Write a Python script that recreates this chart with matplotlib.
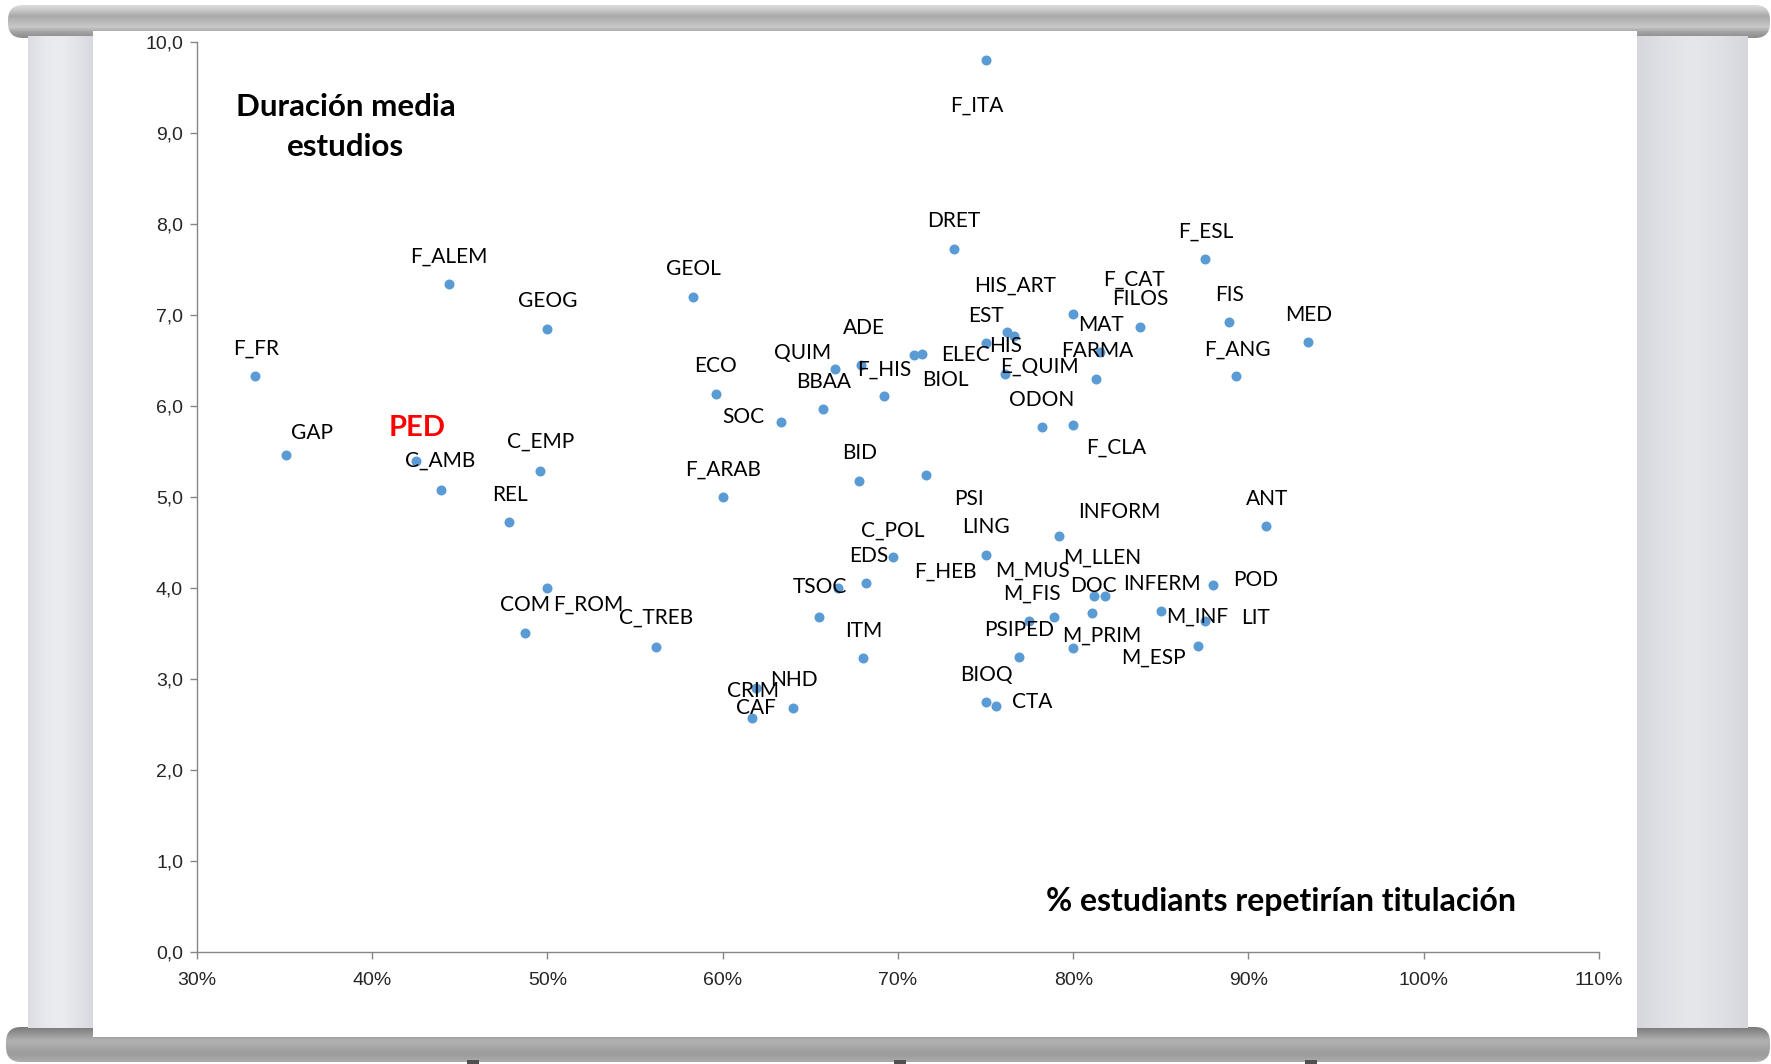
import numpy as np
import matplotlib.pyplot as plt
from matplotlib.patches import FancyBboxPatch, Rectangle
from matplotlib.colors import LinearSegmentedColormap
from matplotlib.ticker import FuncFormatter, MultipleLocator

plt.rcParams['font.family'] = ['Lato', 'DejaVu Sans']

# data: % students who would repeat the degree vs mean duration
names = ["F_ITA", "DRET", "F_ESL", "F_ALEM", "GEOL", "GEOG", "F_FR", "GAP", "PED", "C_AMB",
         "REL", "C_EMP", "F_ROM", "COM", "C_TREB", "ECO", "SOC", "F_ARAB", "QUIM", "ADE",
         "BBAA", "F_HIS", "ELEC", "BIOL", "EST", "E_QUIM", "HIS_ART", "HIS", "F_CAT", "FILOS",
         "MAT", "FARMA", "FIS", "MED", "F_ANG", "ODON", "F_CLA", "BID", "PSI", "INFORM",
         "ANT", "LING", "C_POL", "EDS", "F_HEB", "TSOC", "POD", "PSIPED", "M_FIS", "M_MUS",
         "DOC", "M_LLEN", "LIT", "INFERM", "M_INF", "M_ESP", "M_PRIM", "ITM", "BIOQ", "CTA",
         "CRIM", "NHD", "CAF"]

repeat_pct = [75.0, 73.2, 87.5, 44.4, 58.3, 50.0, 33.3, 35.1, 42.5, 43.9,
              47.8, 49.6, 50.0, 48.7, 56.2, 59.6, 63.3, 60.0, 66.4, 67.9,
              65.7, 69.2, 70.9, 71.4, 75.0, 76.2, 76.6, 76.1, 80.0, 83.8,
              81.5, 81.3, 88.9, 93.4, 89.3, 78.2, 80.0, 67.8, 71.6, 79.2,
              91.0, 75.0, 69.7, 68.2, 66.6, 65.5, 88.0, 76.9, 77.5, 78.9,
              81.1, 81.8, 81.2, 85.0, 87.5, 87.1, 80.0, 68.0, 75.0, 75.6,
              61.9, 64.0, 61.7]

duration = [9.81, 7.73, 7.62, 7.34, 7.20, 6.85, 6.33, 5.46, 5.40, 5.08,
            4.73, 5.29, 4.00, 3.51, 3.36, 6.14, 5.83, 5.00, 6.41, 6.45,
            5.97, 6.11, 6.56, 6.57, 6.70, 6.82, 6.77, 6.36, 7.01, 6.87,
            6.60, 6.30, 6.93, 6.71, 6.33, 5.77, 5.80, 5.18, 5.25, 4.58,
            4.68, 4.37, 4.34, 4.06, 4.00, 3.68, 4.04, 3.25, 3.64, 3.69,
            3.73, 3.92, 3.91, 3.75, 3.64, 3.37, 3.34, 3.23, 2.75, 2.71,
            2.90, 2.68, 2.57]

highlight = "PED"

# label offsets in pixels (dx, dy), same order as names
label_offsets = [(-9, -46), (0, 28), (1, 27), (0, 28), (1, 28), (0, 28), (1, 28), (26, 22), (1, 33), (0, 29),
                 (1, 27), (0, 29), (41, -16), (0, 28), (0, 29), (0, 28), (-37, 5), (0, 28), (-32, 16), (3, 37),
                 (1, 27), (0, 27), (52, 0), (23, -26), (0, 27), (33, -35), (1, 51), (1, 28), (61, 35), (1, 28),
                 (1, 27), (1, 28), (0, 27), (1, 27), (1, 27), (0, 27), (43, -23), (0, 28), (43, -24), (60, 24),
                 (1, 27), (0, 28), (0, 27), (2, 27), (107, 17), (1, 30), (42, 5), (0, 27), (3, 27), (-21, 46),
                 (1, 27), (-3, 38), (161, -22), (1, 27), (-7, 4), (-44, -12), (29, 13), (1, 27), (1, 27), (36, 4),
                 (-3, -3), (1, 28), (3, 10)]

W, H = 1771, 1064
fig = plt.figure(figsize=(W / 100, H / 100), dpi=100)
fig.patch.set_facecolor('white')

# projector screen decoration, drawn in pixel coordinates
bg = fig.add_axes([0, 0, 1, 1])
bg.set_xlim(0, W)
bg.set_ylim(H, 0)
bg.axis('off')


def gradient_box(ax, x0, y0, x1, y1, colors, radius, z, horizontal=False):
    cmap = LinearSegmentedColormap.from_list('g', colors)
    grad = np.linspace(0, 1, 256)
    arr = grad[None, :] if horizontal else grad[:, None]
    im = ax.imshow(arr, cmap=cmap, extent=(x0, x1, y1, y0), aspect='auto',
                   origin='upper', zorder=z, interpolation='bilinear')
    box = FancyBboxPatch((x0, y0), x1 - x0, y1 - y0,
                         boxstyle=f"round,pad=0,rounding_size={radius}",
                         facecolor='none', edgecolor='none', zorder=z)
    ax.add_patch(box)
    im.set_clip_path(box)


# bars and side panels
gradient_box(bg, 8, 5, 1770, 38,
             ['#dedede', '#c6c6c6', '#a9a9a9', '#b9b9b9', '#c8c8c8', '#a0a0a0', '#8c8c8c'], 15, 1)
gradient_box(bg, 6, 1027, 1770, 1062,
             ['#7a7a7a', '#969696', '#b3b3b3', '#a4a4a4', '#9c9c9c', '#adadad'], 15, 1)
gradient_box(bg, 28, 36, 93, 1028,
             ['#dcdde2', '#e8e9ee', '#ebecf0', '#e3e4e9', '#d8d9de'], 0, 1.5, horizontal=True)
gradient_box(bg, 1636, 36, 1748, 1028,
             ['#d6d7dc', '#e0e1e6', '#e6e7eb', '#e0e1e6', '#d6d7dc'], 0, 1.5, horizontal=True)
bg.add_patch(Rectangle((92.6, 31), 1636.7 - 92.6, 1036.7 - 31, facecolor='white',
                       edgecolor='none', zorder=2))
for tx in [467, 894, 1305]:
    bg.add_patch(Rectangle((tx, 1060), 12, 4, facecolor='#505050', edgecolor='none', zorder=2))
bg.set_xlim(0, W)
bg.set_ylim(H, 0)

# scatter chart
ax = fig.add_axes([196.9 / W, 1 - 952.3 / H, (1599 - 196.9) / W, (952.3 - 42.3) / H])
ax.set_facecolor('none')
ax.set_zorder(5)
ax.scatter(repeat_pct, duration, s=52, color='#5b9bd5', zorder=3, linewidths=0)

for name, xv, yv, off in zip(names, repeat_pct, duration, label_offsets):
    if name == highlight:
        ax.annotate(name, (xv, yv), xytext=off, textcoords='offset pixels',
                    ha='center', va='center', fontsize=21, fontweight='bold',
                    color='#ff0000', zorder=4)
    else:
        ax.annotate(name, (xv, yv), xytext=off, textcoords='offset pixels',
                    ha='center', va='center', fontsize=15, color='black', zorder=4)

ax.set_xlim(30, 110)
ax.set_ylim(0, 10)
ax.xaxis.set_major_locator(MultipleLocator(10))
ax.yaxis.set_major_locator(MultipleLocator(1))
ax.xaxis.set_major_formatter(FuncFormatter(lambda v, p: f"{v:.0f}%"))
ax.yaxis.set_major_formatter(FuncFormatter(lambda v, p: f"{v:.1f}".replace('.', ',')))

for side in ['top', 'right']:
    ax.spines[side].set_visible(False)
for side in ['left', 'bottom']:
    ax.spines[side].set_color('#868686')
    ax.spines[side].set_linewidth(1)
ax.tick_params(axis='both', color='#868686', length=5, width=1, direction='out',
               labelcolor='#262626', labelsize=14)
ax.tick_params(axis='x', pad=9)
ax.tick_params(axis='y', pad=5)
for lab in ax.get_xticklabels() + ax.get_yticklabels():
    lab.set_fontfamily(['Liberation Sans', 'DejaVu Sans'])

ax.text(38.48, 9.07, "Duración media\nestudios", ha='center', va='center',
        fontsize=22.5, fontweight='bold', linespacing=1.55)
ax.text(91.84, 0.56, "% estudiants repetirían titulación", ha='center', va='center',
        fontsize=23, fontweight='bold')

fig.savefig('out.png', dpi=100)
